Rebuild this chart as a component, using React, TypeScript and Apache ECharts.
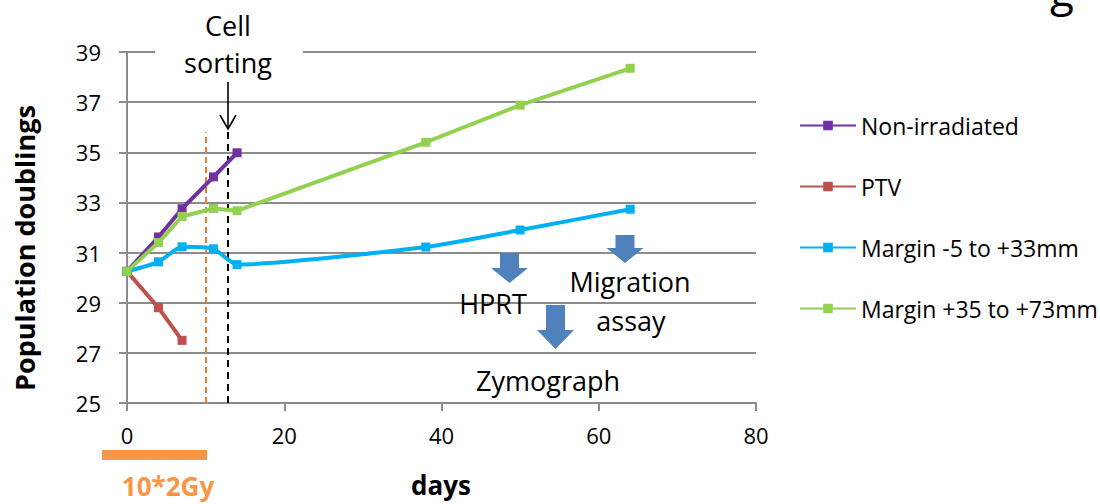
import React, { useEffect, useRef } from "react";
import * as echarts from "echarts";

// ---- data ----
const days = [0, 4, 7, 11, 14, 38, 50, 64];
const nonIrradiated = [30.25, 31.62, 32.75, 34.02, 34.98];
const ptv = [30.25, 28.8, 27.5];
const marginNear = [30.25, 30.63, 31.23, 31.15, 30.52, 31.22, 31.9, 32.73];
const marginFar = [30.25, 31.4, 32.44, 32.76, 32.67, 35.4, 36.88, 38.35];
const seriesNames = ["Non-irradiated", "PTV", "Margin -5 to +33mm", "Margin +35 to +73mm"];
const seriesColors = ["#7030A0", "#C0504D", "#00B0F0", "#92D050"];
const xTicks = { min: 0, max: 80, interval: 20 };
const yTicks = { min: 25, max: 39, interval: 2 };
const irradiationEndDay = 10;
const sortingDay = 12.8;
const markerTop = 35.8;

const FONT = "'Open Sans', sans-serif";
const GRID_GREY = "#8C8C8C";

const pairs = (vals: number[]) => vals.map((v, i) => [days[i], v]);

function blueArrow(cx: number, top: number, headY: number, tip: number) {
  const sw = 9.5;
  const hw = 18.5;
  return {
    type: "polygon",
    z: 20,
    shape: {
      points: [
        [cx - sw, top],
        [cx + sw, top],
        [cx + sw, headY],
        [cx + hw, headY],
        [cx, tip],
        [cx - hw, headY],
        [cx - sw, headY],
      ],
    },
    style: { fill: "#4F81BD" },
  };
}

function label(text: string, x: number, y: number, size: number, extra: any = {}) {
  return {
    type: "text",
    x,
    y,
    z: 21,
    ...extra,
    style: {
      text,
      fontFamily: FONT,
      fontSize: size,
      fill: "#000",
      align: "center",
      verticalAlign: "middle",
      ...(extra.style || {}),
    },
  };
}

export default function App() {
  const ref = useRef<HTMLDivElement>(null);
  useEffect(() => {
    if (!ref.current) return;
    const chart = echarts.init(ref.current, undefined, { renderer: "svg" });
    const dataSets = [nonIrradiated, ptv, marginNear, marginFar];
    const series: any[] = dataSets.map((vals, i) => ({
      name: seriesNames[i],
      type: "line",
      data: pairs(vals),
      smooth: i === 2 ? 0.2 : false,
      symbol: "rect",
      symbolSize: 9,
      z: 5 + i,
      lineStyle: { color: seriesColors[i], width: 4 },
      itemStyle: { color: seriesColors[i] },
    }));
    series[0].markLine = {
      silent: true,
      symbol: ["none", "none"],
      label: { show: false },
      z: 3,
      data: [
        [
          { coord: [irradiationEndDay, yTicks.min], lineStyle: { color: "#ED7D31", type: [6, 4], width: 2 } },
          { coord: [irradiationEndDay, markerTop] },
        ],
        [
          { coord: [sortingDay, yTicks.min], lineStyle: { color: "#000", type: [7, 5], width: 2 } },
          { coord: [sortingDay, markerTop + 0.1] },
        ],
      ],
    };

    chart.setOption({
      animation: false,
      grid: { left: 127, right: 344, top: 52, bottom: 101 },
      xAxis: {
        type: "value",
        ...xTicks,
        axisLine: { lineStyle: { color: GRID_GREY, width: 2 } },
        axisTick: { show: true, length: 8, lineStyle: { color: GRID_GREY, width: 2 } },
        axisLabel: { color: "#000", fontFamily: FONT, fontSize: 22, margin: 21 },
        splitLine: { show: false },
      },
      yAxis: {
        type: "value",
        ...yTicks,
        axisLine: { show: true, lineStyle: { color: GRID_GREY, width: 2 } },
        axisTick: { show: true, length: 8, lineStyle: { color: GRID_GREY, width: 2 } },
        axisLabel: { color: "#000", fontFamily: FONT, fontSize: 22, margin: 26 },
        splitLine: { show: true, lineStyle: { color: GRID_GREY, width: 2 } },
      },
      legend: {
        orient: "vertical",
        left: 794,
        top: 108,
        itemWidth: 56,
        itemHeight: 12,
        itemGap: 36,
        data: seriesNames,
        textStyle: { fontFamily: FONT, fontSize: 23, color: "#000", lineHeight: 25 },
      },
      series,
      graphic: [
        { type: "rect", z: 15, shape: { x: 155, y: 38, width: 148, height: 30 }, style: { fill: "#fff" } },
        label("Cell", 228, 25, 27),
        label("sorting", 228, 62, 27),
        { type: "line", z: 20, shape: { x1: 228, y1: 82, x2: 228, y2: 129 }, style: { stroke: "#000", lineWidth: 1.6 } },
        { type: "polyline", z: 20, shape: { points: [[220, 115], [228, 129], [236, 115]] }, style: { stroke: "#000", lineWidth: 1.6, fill: null } },
        blueArrow(509.5, 253, 268, 283),
        blueArrow(625, 235, 248, 263),
        blueArrow(555.5, 305, 330, 349),
        label("HPRT", 493, 303, 27),
        label("Migration", 630, 281, 27),
        label("assay", 631, 320, 27),
        label("Zymograph", 548, 380, 27),
        { type: "rect", z: 20, shape: { x: 102, y: 450, width: 105, height: 10 }, style: { fill: "#F79646" } },
        label("10*2Gy", 168, 486, 26, { style: { fontWeight: "bold", fill: "#F79646" } }),
        label("days", 441, 485, 26, { style: { fontWeight: "bold" } }),
        label("Population doublings", 24, 248, 27, { rotation: Math.PI / 2, style: { fontWeight: "bold" } }),
        label("g", 1062, -11, 44),
      ],
    });
    return () => chart.dispose();
  }, []);
  return (
    <div
      ref={ref}
      style={{ position: "absolute", left: 0, top: 0, width: 1100, height: 504, background: "#fff" }}
    />
  );
}
